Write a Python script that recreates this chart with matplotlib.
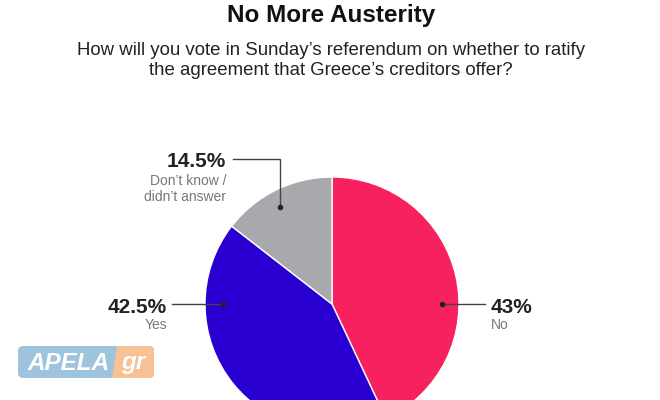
import matplotlib.pyplot as plt
from matplotlib.patches import FancyBboxPatch, Polygon

# --- data ---
labels = ['No', 'Yes', ['Don’t know /', 'didn’t answer']]
values = [43, 42.5, 14.5]
value_text = ['43%', '42.5%', '14.5%']
colors = ['#F8215F', '#2A00D2', '#A8A9AD']

W, H = 660, 400


def Y(y):
    # pixel row (from top) -> data y
    return H - y


plt.rcParams['font.family'] = ['Liberation Sans', 'DejaVu Sans']

fig = plt.figure(figsize=(6.6, 4.0), dpi=100)
ax = fig.add_axes([0, 0, 1, 1])

cx, cy, r = 332, 304, 127
ax.pie(values, colors=colors, startangle=90, counterclock=False,
       center=(cx, Y(cy)), radius=r,
       wedgeprops=dict(edgecolor='white', linewidth=1))

ax.set_xlim(0, W)
ax.set_ylim(0, H)
ax.set_aspect('equal', adjustable='box')
ax.axis('off')

# --- titles ---
ax.text(331, Y(22), 'No More Austerity', ha='center', va='baseline',
        fontsize=17.5, fontweight='bold', color='#111111')
ax.text(331, Y(55), 'How will you vote in Sunday’s referendum on whether to ratify',
        ha='center', va='baseline', fontsize=13.4, color='#222222')
ax.text(331, Y(75), 'the agreement that Greece’s creditors offer?',
        ha='center', va='baseline', fontsize=13.4, color='#222222')

# --- labels and leader lines ---
line_kw = dict(color='#444444', linewidth=1)
dot_kw = dict(marker='o', markersize=3, color='#222222')
big_kw = dict(va='baseline', fontsize=15, fontweight='bold', color='#222222')
small_kw = dict(va='baseline', fontsize=10, color='#777777')

# No
ax.plot([442, 485], [Y(304), Y(304)], **line_kw)
ax.plot(442, Y(304), **dot_kw)
ax.text(491, Y(313), value_text[0], ha='left', **big_kw)
ax.text(491, Y(329), labels[0], ha='left', **small_kw)

# Yes
ax.plot([172, 223], [Y(304), Y(304)], **line_kw)
ax.plot(223, Y(304), **dot_kw)
ax.text(167, Y(313), value_text[1], ha='right', **big_kw)
ax.text(167, Y(329), labels[1], ha='right', **small_kw)

# Don't know
ax.plot([233, 280, 280], [Y(159), Y(159), Y(207)], **line_kw)
ax.plot(280, Y(207), **dot_kw)
ax.text(226, Y(167), value_text[2], ha='right', **big_kw)
ax.text(226, Y(185), labels[2][0], ha='right', **small_kw)
ax.text(226, Y(201), labels[2][1], ha='right', **small_kw)

# --- watermark logo ---
ax.add_patch(FancyBboxPatch((18, Y(378)), 136, 32,
                            boxstyle='round,pad=0,rounding_size=5',
                            facecolor='#9EC3DC', edgecolor='none', zorder=3))
ax.add_patch(Polygon([(117, Y(346)), (142, Y(346)), (142, Y(378)), (112, Y(378))],
                     closed=True, facecolor='#F5C195', edgecolor='none', zorder=3))
ax.add_patch(FancyBboxPatch((130, Y(378)), 24, 32,
                            boxstyle='round,pad=0,rounding_size=5',
                            facecolor='#F5C195', edgecolor='none', zorder=3))
ax.text(69, Y(370), 'APELA', ha='center', va='baseline', fontsize=17.5,
        fontweight='bold', style='italic', color='white', zorder=4)
ax.text(133, Y(369), 'gr', ha='center', va='baseline', fontsize=17.5,
        fontweight='bold', style='italic', color='white', zorder=4)

fig.savefig('out.png', dpi=100)
